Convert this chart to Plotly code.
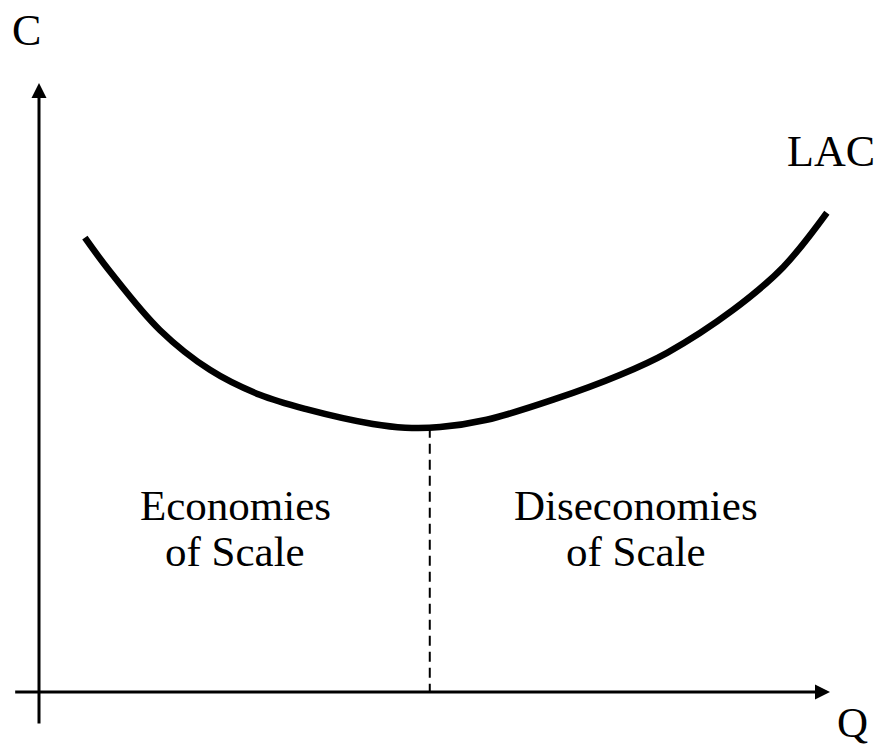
import plotly.graph_objects as go

# LAC curve (Q, C)
q_vals = [0.58, 0.90, 1.53, 2.16, 2.79, 3.39, 4.22, 4.63, 5.07, 5.66, 6.50, 7.35, 7.94, 8.77, 9.41, 9.96]
c_vals = [7.46, 6.90, 5.94, 5.29, 4.88, 4.64, 4.40, 4.34, 4.35, 4.47, 4.80, 5.21, 5.57, 6.27, 6.98, 7.87]

q_min = 4.94   # quantity at the minimum of LAC
c_min = 4.34   # minimum cost

region_labels = ["Economies", "of Scale", "Diseconomies", "of Scale"]

FONT = "Liberation Serif, Times New Roman, serif"

fig = go.Figure()

fig.add_trace(go.Scatter(
    x=q_vals, y=c_vals, mode="lines",
    line=dict(color="black", width=6.5, shape="spline", smoothing=1.0),
    hoverinfo="skip", showlegend=False,
))

# dashed vertical line at the minimum
fig.add_trace(go.Scatter(
    x=[q_min, q_min], y=[c_min, 0], mode="lines",
    line=dict(color="black", width=2, dash="10px,6px"),
    hoverinfo="skip", showlegend=False,
))

annotations = []
# axes with arrowheads
annotations.append(dict(x=0, y=10.0, ax=0, ay=-0.54, xref="x", yref="y", axref="x", ayref="y",
                        text="", showarrow=True, arrowhead=2, arrowsize=1, arrowwidth=3,
                        arrowcolor="black", standoff=0, startstandoff=0))
annotations.append(dict(x=10.0, y=0, ax=-0.32, ay=0, xref="x", yref="y", axref="x", ayref="y",
                        text="", showarrow=True, arrowhead=2, arrowsize=1, arrowwidth=3,
                        arrowcolor="black", standoff=0, startstandoff=0))

# axis / curve labels
annotations.append(dict(x=-0.16, y=10.87, xref="x", yref="y", text="C", showarrow=False,
                        font=dict(family=FONT, size=44, color="black")))
annotations.append(dict(x=10.01, y=8.87, xref="x", yref="y", text="LAC", showarrow=False,
                        font=dict(family=FONT, size=44, color="black")))
annotations.append(dict(x=10.29, y=-0.50, xref="x", yref="y", text="Q", showarrow=False,
                        font=dict(family=FONT, size=43, color="black")))

# region labels
label_x = [2.48, 2.48, 7.55, 7.55]
label_y = [3.07, 2.30, 3.07, 2.30]
for t, lx, ly in zip(region_labels, label_x, label_y):
    annotations.append(dict(x=lx, y=ly, xref="x", yref="y", text=t, showarrow=False,
                            font=dict(family=FONT, size=43, color="black")))

fig.update_layout(
    width=879, height=747, autosize=False,
    margin=dict(l=0, r=0, t=0, b=0),
    paper_bgcolor="white", plot_bgcolor="white",
    xaxis=dict(range=[-0.493, 10.619], visible=False, fixedrange=True),
    yaxis=dict(range=[-0.903, 11.363], visible=False, fixedrange=True),
    annotations=annotations,
    showlegend=False,
)

fig.write_html(
    "out.html",
    config={"displayModeBar": False},
    post_script="document.body.style.margin='0';document.body.style.padding='0';document.body.style.overflow='hidden';",
)
